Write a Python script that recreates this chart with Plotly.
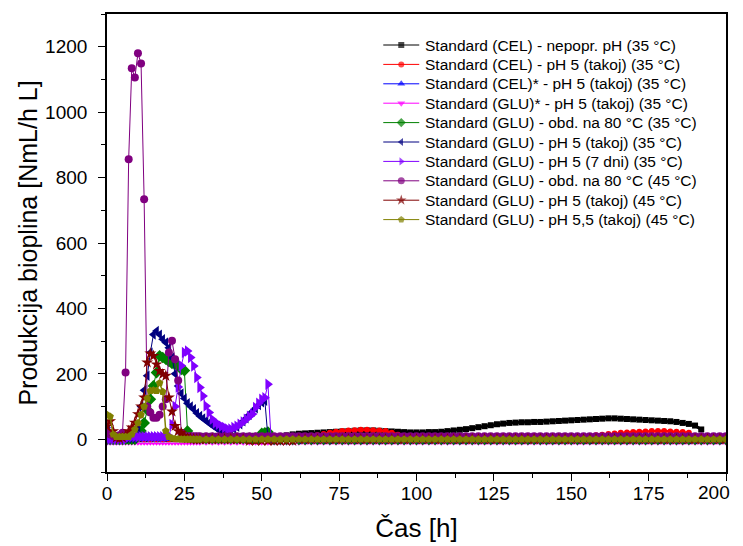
import plotly.graph_objects as go

# ---------------- time grids (h) ----------------
T_EARLY = list(range(0, 31))            # hourly 0..30
T_TAIL = list(range(32, 201, 2))        # every 2 h 32..200
T_LONG_A = list(range(0, 55))           # hourly 0..54
T_LONG_B = list(range(56, 201, 2))      # every 2 h 56..200
T_BLACK = list(range(0, 193, 2))
T_RED = list(range(0, 189, 2))

X_TICKS = [0, 25, 50, 75, 100, 125, 150, 175, 200]
X_TICK_TEXT = ["0", "25", "50", "75", "100", "125", "150", "175", ""]
LAST_X_LABEL = "200"

NAMES = [
    "Standard (CEL) - nepopr. pH (35 °C)",
    "Standard (CEL) - pH 5 (takoj) (35 °C)",
    "Standard (CEL)* - pH 5 (takoj) (35 °C)",
    "Standard (GLU)* - pH 5 (takoj) (35 °C)",
    "Standard (GLU) - obd. na 80 °C (35 °C)",
    "Standard (GLU) - pH 5 (takoj) (35 °C)",
    "Standard (GLU) - pH 5 (7 dni) (35 °C)",
    "Standard (GLU) - obd. na 80 °C (45 °C)",
    "Standard (GLU) - pH 5 (takoj) (45 °C)",
    "Standard (GLU) - pH 5,5 (takoj) (45 °C)",
]

# ---------------- values (NmL/h L) ----------------
V_BLACK = [0, 0, 0, 0, 0, 0, 0, 0, 0, 0, 0, 0, 0, 0, 0, 0, 0, 0, 0, 0, 1, 1, 1, 2, 2,
           2, 3, 5, 8, 12, 15, 17, 18, 19, 20, 21, 22, 23, 24, 25, 26, 27, 27, 27, 26, 25,
           24, 23, 22, 21, 21, 21, 22, 22, 23, 25, 27, 29, 31, 34, 37, 40, 43, 46, 48, 50,
           51, 52, 52, 53, 53, 54, 55, 56, 57, 58, 59, 60, 61, 62, 63, 64, 64, 63, 62, 61,
           60, 59, 58, 57, 56, 55, 53, 50, 47, 42, 30]

V_RED = [0, 0, 0, 0, 0, 0, 0, 0, 0, 0, 0, 0, 0, 0, 0, 0, 0, 0, 0, 0, 0, 0, 0, 0, 0, 0, 0, 0, 0, 0, 0, 0,
         3, 7, 12, 16, 20, 23, 25, 27, 28, 29, 29, 28, 27, 25, 20, 14, 9, 6, 4,
         3, 3, 3, 3, 3, 3, 3, 3, 3, 3, 3, 3, 3, 3, 3, 3, 3, 3, 3, 3, 3, 3, 3, 3,
         4, 6, 8, 10, 12, 14, 16, 18, 20, 21, 22, 23, 24, 25, 25, 25, 24, 23, 22, 20]

V_BLUE = [40, 10, 0, 0, 0, 0, 0, 0, 0, 0, 0, 0, 0, 0, 0, 0, 0, 0, 0, 0, 0, 0, 0, 0, 0, 0, 0, 0, 0, 0, 0,
          0, 0, 0, 0, 0, 0, 0, 0, 0, 0, 0, 0, 0, 0, 0, 0, 0,
          0, 0, 0, 0, 0, 0, 0, 0, 0, 0, 0, 0, 0, 0, 0, 0, 0,
          0, 0, 0, 0, 0, 0, 0, 0, 0, 0, 0, 0, 0, 0, 0, 0, 0,
          0, 0, 0, 0, 0, 0, 0, 0, 0, 0, 0, 0, 0, 0, 0, 0, 0,
          0, 0, 0, 0, 0, 0, 0, 0, 0, 0, 0, 0, 0, 0, 0, 0, 0]

V_MAGENTA = [-14, -14, -14, -14, -14, -14, -14, -14, -14, -14, -14, -14, -14, -14, -14, -14,
             -14, -14, -14, -14, -14, -14, -14, -14, -14, -14, -14, -14, -14, -14, -14,
             -14, -14, -14, -14, -14, -14, -14, -14, -14, -14, -14, -14, -14, -14, -14, -14, -14,
             -14, -14, -14, -14, -14, -14, -14, -14, -14, -14, -14, -14, -14, -14, -14, -14, -14,
             -14, -14, -14, -14, -14, -14, -14, -14, -14, -14, -14, -14, -14, -14, -14, -14, -14,
             -14, -14, -14, -14, -14, -14, -14, -14, -14, -14, -14, -14, -14, -14, -14, -14, -14,
             -14, -14, -14, -14, -14, -14, -14, -14, -14, -14, -14, -14, -14, -14, -14, -14, -14]

V_GREEN = [0, 0, 0, 0, 0, 0, 0, 0, 0, 0,
           10, 25, 50, 90, 122, 163, 204, 255, 250, 245, 238, 232, 229, 224, 214, 210, 25, 5,
           3, 3, 3, 3, 3, 3, 3, 3, 3, 3, 3, 3, 3, 3, 3, 3, 3, 3, 3, 3, 3, 3,
           18, 20, 22, 3, 0,
           0, 0, 0, 0, 0, 0, 0, 0, 0, 0, 0, 0, 0, 0, 0, 0, 0, 0, 0, 0, 0, 0, 0, 0,
           0, 0, 0, 0, 0, 0, 0, 0, 0, 0, 0, 0, 0, 0, 0, 0, 0, 0, 0, 0, 0, 0, 0, 0,
           0, 0, 0, 0, 0, 0, 0, 0, 0, 0, 0, 0, 0, 0, 0, 0, 0, 0, 0, 0, 0, 0, 0, 0, 0]

V_NAVY = [30, 10, 3, 3, 3, 3, 3, 3, 3, 3,
          30, 100, 150, 194, 265, 320, 331, 320, 306, 296, 280, 250, 200, 163, 140, 125, 110,
          100, 92, 80, 71, 64, 57, 50, 43, 37, 30, 25, 22, 23, 27, 32, 38, 46, 55, 64, 75, 85,
          95, 105, 113, 118, 5, 0, 0,
          0, 0, 0, 0, 0, 0, 0, 0, 0, 0, 0, 0, 0, 0, 0, 0, 0, 0, 0, 0, 0, 0, 0, 0,
          0, 0, 0, 0, 0, 0, 0, 0, 0, 0, 0, 0, 0, 0, 0, 0, 0, 0, 0, 0, 0, 0, 0, 0,
          0, 0, 0, 0, 0, 0, 0, 0, 0, 0, 0, 0, 0, 0, 0, 0, 0, 0, 0, 0, 0, 0, 0, 0, 0]

V_VIOLET = [0, 0, 0, 0, 0, 0, 0,
            8, 8, 8, 8, 8, 8, 8, 8, 8, 8, 8, 8, 8,
            10, 45, 100, 160, 225, 265, 270, 250, 224, 189, 158, 132, 102, 82, 61, 50, 46, 40,
            36, 31, 31, 36, 40, 46, 53, 61, 70, 77, 97, 110, 122, 127, 168, 3, 3,
            3, 3, 3, 3, 3, 3, 3, 3, 3, 3, 3, 3, 3, 3, 3, 3, 3, 3, 3, 3, 3, 3, 3, 3,
            3, 3, 3, 3, 3, 3, 3, 3, 3, 3, 3, 3, 3, 3, 3, 3, 3, 3, 3, 3, 3, 3, 3, 3,
            3, 3, 3, 3, 3, 3, 3, 3, 3, 3, 3, 3, 3, 3, 3, 3, 3, 3, 3, 3, 3, 3, 3, 3, 3]

V_PURPLE = [25, 15, 10, 8, 12, 20, 204, 856, 1134, 1106, 1180, 1149, 734, 100, 82, 66, 66,
            75, 100, 122, 265, 301, 245, 180, 20, 9, 9, 9, 9, 9, 9,
            9, 9, 9, 9, 9, 9, 9, 9, 9, 9, 9, 9, 9, 9, 9, 9, 9,
            9, 9, 9, 9, 9, 9, 9, 9, 9, 9, 9, 9, 9, 9, 9, 9, 9,
            9, 9, 9, 9, 9, 9, 9, 9, 9, 9, 9, 9, 9, 9, 9, 9, 9,
            9, 9, 9, 9, 9, 9, 9, 9, 9, 9, 9, 9, 9, 9, 9, 9, 9,
            9, 9, 9, 9, 9, 9, 9, 9, 9, 9, 9, 9, 9, 9, 9, 9, 9]

V_WINE = [40, 55, 25, 5, 3, 5, 12, 25, 36, 51, 77, 100, 128, 235, 262, 255, 229, 209, 199,
          194, 128, 85, 41, 25, 20, 10, 3, 2, 1, 0, 0,
          0, 0, 0, 0, 0, 0, 0, -5, -5, -5, -5, -5, -5, -5, -5,
          0, 0, 0, 0, 0, 0, 0, 0, 0, 0, 0, 0, 0, 0, 0, 0, 0, 0, 0, 0, 0, 0, 0, 0,
          0, 0, 0, 0, 0, 0, 0, 0, 0, 0, 0, 0, 0, 0, 0, 0, 0, 0, 0, 0, 0, 0, 0, 0,
          0, 0, 0, 0, 0, 0, 0, 0, 0, 0, 0, 0, 0, 0, 0, 0, 0, 0, 0, 0, 0, 0]

V_OLIVE = [75, 70, 15, 8, 8, 8, 8, 8, 15, 30, 50, 75, 100, 125, 148, 150, 148, 172, 145,
           25, 8, 3, 2, 1, 0, 0, 0, 0, 0, 0, 0,
           0, 0, 0, 0, 0, 0, 0, 0, 0, 0, 0, 0, 0, 0, 0, 0, 0,
           0, 0, 0, 0, 0, 0, 0, 0, 0, 0, 0, 0, 0, 0, 0, 0, 0,
           0, 0, 0, 0, 0, 0, 0, 0, 0, 0, 0, 0, 0, 0, 0, 0, 0,
           0, 0, 0, 0, 0, 0, 0, 0, 0, 0, 0, 0, 0, 0, 0, 0, 0,
           0, 0, 0, 0, 0, 0, 0, 0, 0, 0, 0, 0, 0, 0, 0, 0, 0]

T_SHORT = T_EARLY + T_TAIL
T_LONG = T_LONG_A + T_LONG_B

# (times, values, colour, symbol, marker size, line width)
SERIES = [
    (T_BLACK, V_BLACK, "#000000", "square", 6, 3),
    (T_RED, V_RED, "#FF0000", "circle", 6, 2.5),
    (T_SHORT, V_BLUE, "#0000FF", "triangle-up", 7, 1),
    (T_SHORT, V_MAGENTA, "#FF00FF", "triangle-down", 4, 0.6),
    (T_LONG, V_GREEN, "#008000", "diamond", 9, 1),
    (T_LONG, V_NAVY, "#000080", "triangle-left", 9, 1),
    (T_LONG, V_VIOLET, "#8000FF", "triangle-right", 10, 1),
    (T_SHORT, V_PURPLE, "#800080", "circle", 8, 1),
    (T_SHORT, V_WINE, "#800000", "star", 9, 1),
    (T_SHORT, V_OLIVE, "#808000", "pentagon", 8, 1.5),
]

fig = go.Figure()
for name, (t, v, col, sym, sz, lw) in zip(NAMES, SERIES):
    fig.add_trace(go.Scatter(
        x=t, y=v, name=name, mode="lines+markers", showlegend=False,
        line=dict(color=col, width=lw),
        marker=dict(color=col, symbol=sym, size=sz, line=dict(width=0)),
    ))

# ---------------- legend (drawn by hand for exact row spacing) ----------------
W, H = 733, 546
L, R, T, B = 106.5, 726.0, 14.0, 472.0


def px_x(px):
    return (px - L) / (R - L)


def px_y(py):
    return (B - py) / (B - T)


LEG_Y0, LEG_DY = 45.0, 19.4
leg_sizes = [6, 6, 7, 7, 7, 7, 7, 7, 8, 7]
leg_x, leg_y, leg_c, leg_s, leg_z = [], [], [], [], []
for i, (name, s) in enumerate(zip(NAMES, SERIES)):
    yy = px_y(LEG_Y0 + LEG_DY * i)
    fig.add_shape(type="line", xref="paper", yref="paper",
                  x0=px_x(383), x1=px_x(419), y0=yy, y1=yy,
                  line=dict(color=s[2], width=1))
    fig.add_annotation(xref="paper", yref="paper", x=px_x(423), y=yy,
                       xanchor="left", yanchor="middle", showarrow=False,
                       text=name, font=dict(size=15.5, color="black"))
    leg_x.append(px_x(401))
    leg_y.append(yy)
    leg_c.append(s[2])
    leg_s.append(s[3])
    leg_z.append(leg_sizes[i])

fig.add_trace(go.Scatter(
    x=leg_x, y=leg_y, mode="markers", xaxis="x2", yaxis="y2", showlegend=False,
    hoverinfo="skip", cliponaxis=False,
    marker=dict(color=leg_c, symbol=leg_s, size=leg_z, line=dict(width=0)),
))

# last x tick label kept inside the figure edge
fig.add_annotation(xref="paper", yref="paper", x=px_x(732), y=px_y(492),
                   xanchor="right", yanchor="middle", showarrow=False,
                   text=LAST_X_LABEL, font=dict(size=19, color="black"))

axis_common = dict(
    showline=True, linecolor="black", linewidth=1.6, mirror=True,
    ticks="outside", ticklen=7, tickwidth=1.3, tickcolor="black",
    showgrid=False, zeroline=False,
    tickfont=dict(size=19, color="black"),
    automargin=False,
)

fig.update_xaxes(
    range=[0, 200], tickmode="array", tickvals=X_TICKS, ticktext=X_TICK_TEXT,
    minor=dict(dtick=12.5, tick0=0, ticks="outside", ticklen=4, tickcolor="black", tickwidth=1.3),
    title=dict(text="Čas [h]", font=dict(size=26, color="black"), standoff=16),
    ticklabelstandoff=-4,
    **axis_common,
)
fig.update_yaxes(
    range=[-100, 1300], tick0=0, dtick=200,
    minor=dict(dtick=100, ticks="outside", ticklen=4, tickcolor="black", tickwidth=1.3),
    title=dict(text="Produkcija bioplina [NmL/h L]", font=dict(size=25, color="black"), standoff=0),
    ticklabelstandoff=7,
    **axis_common,
)

fig.update_layout(
    width=W, height=H,
    margin=dict(l=L, r=W - R, t=T, b=H - B, autoexpand=False),
    paper_bgcolor="white", plot_bgcolor="white",
    font=dict(family="Arial, Liberation Sans, sans-serif", color="black", size=17),
    xaxis2=dict(overlaying="x", range=[0, 1], visible=False),
    yaxis2=dict(overlaying="y", range=[0, 1], visible=False),
    showlegend=False,
)

fig.write_html("out.html")
